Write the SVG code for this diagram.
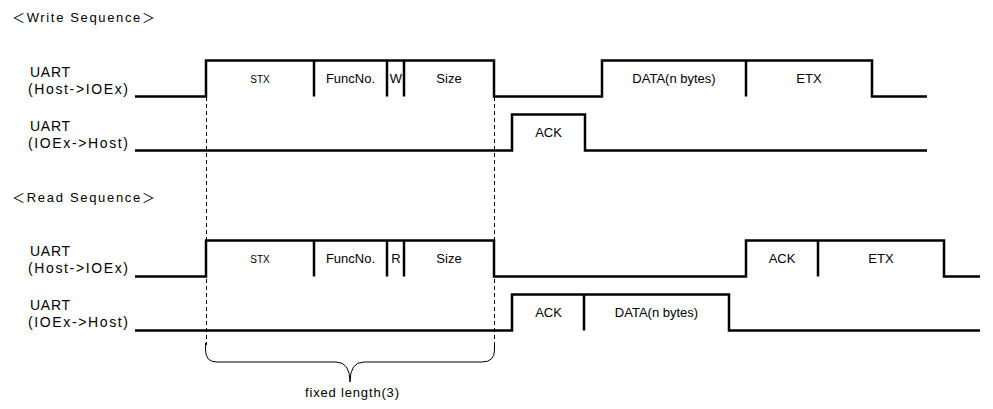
<svg xmlns="http://www.w3.org/2000/svg" width="993" height="409" viewBox="0 0 993 409">
<style>
.sig{fill:none;stroke:#000;stroke-width:2.5;stroke-linejoin:miter}
.dash{fill:none;stroke:#000;stroke-width:1;stroke-dasharray:4,3}
.brace{fill:none;stroke:#000;stroke-width:1}
.lbl{font-family:"Liberation Sans","Noto Sans CJK JP",sans-serif;font-size:14px;fill:#000}
.ttl{font-family:"Liberation Sans","Noto Sans CJK JP",sans-serif;font-size:13px;fill:#000}
.in{font-family:"Liberation Sans",sans-serif;font-size:13px;fill:#000;text-anchor:middle}
.sm{font-family:"Liberation Sans",sans-serif;font-size:10px;fill:#000;text-anchor:middle}
.fx{font-family:"Liberation Sans",sans-serif;font-size:13px;fill:#000}
</style>
<rect width="993" height="409" fill="#fff"/>
<text class="ttl" x="12" y="22" textLength="143" lengthAdjust="spacing">＜Write Sequence＞</text>
<text class="ttl" x="12" y="202" textLength="143" lengthAdjust="spacing">＜Read Sequence＞</text>

<g id="w-host-label"><text class="lbl" x="30" y="77" textLength="40">UART</text><text class="lbl" x="28" y="94" textLength="100">(Host-&gt;IOEx)</text></g>
<g id="w-ioex-label"><text class="lbl" x="30" y="131" textLength="40">UART</text><text class="lbl" x="28" y="148" textLength="100">(IOEx-&gt;Host)</text></g>
<g id="r-host-label"><text class="lbl" x="30" y="256" textLength="40">UART</text><text class="lbl" x="28" y="273" textLength="100">(Host-&gt;IOEx)</text></g>
<g id="r-ioex-label"><text class="lbl" x="30" y="310" textLength="40">UART</text><text class="lbl" x="28" y="327" textLength="100">(IOEx-&gt;Host)</text></g>

<g id="connectors">
<path class="sig" d="M135 96.5H206V60.5H494V96.5H602V60.5H872V96.5H927"/>
<path class="sig" d="M314 60.5V96.5M387 60.5V96.5M404 60.5V96.5M746 60.5V96.5"/>
<path class="sig" d="M135 150.5H512V114.5H585V150.5H927"/>
<path class="sig" d="M135 276.5H206V240.5H494V276.5H746V240.5H944V276.5H980"/>
<path class="sig" d="M314 240.5V276.5M387 240.5V276.5M404 240.5V276.5M818 240.5V276.5"/>
<path class="sig" d="M135 330.5H512V294.5H729V330.5H980"/>
<path class="sig" d="M584 294.5V330.5"/>
<path class="dash" d="M206.5 97V345M494.5 97V345"/>
<path class="brace" d="M205.5 343V350Q205.5 362 217 362H336Q350 362 350 382Q350 362 364 362H482Q494.5 362 494.5 350V343"/>
</g>

<g id="w-stx"><text class="sm" x="260" y="83">STX</text></g>
<g id="w-func"><text class="in" x="350.5" y="83">FuncNo.</text></g>
<g id="w-w"><text class="in" x="396" y="83">W</text></g>
<g id="w-size"><text class="in" x="449" y="83">Size</text></g>
<g id="w-data"><text class="in" x="674" y="83">DATA(n bytes)</text></g>
<g id="w-etx"><text class="in" x="809" y="83">ETX</text></g>
<g id="w-ack"><text class="in" x="548.5" y="137">ACK</text></g>

<g id="r-stx"><text class="sm" x="260" y="263">STX</text></g>
<g id="r-func"><text class="in" x="350.5" y="263">FuncNo.</text></g>
<g id="r-r"><text class="in" x="396" y="263">R</text></g>
<g id="r-size"><text class="in" x="449" y="263">Size</text></g>
<g id="r-ack2"><text class="in" x="782" y="263">ACK</text></g>
<g id="r-etx"><text class="in" x="881" y="263">ETX</text></g>
<g id="r-ack"><text class="in" x="548.5" y="317">ACK</text></g>
<g id="r-data"><text class="in" x="656.5" y="317">DATA(n bytes)</text></g>

<g id="brace-label"><text class="fx" x="305" y="397" textLength="94">fixed length(3)</text></g>
</svg>
